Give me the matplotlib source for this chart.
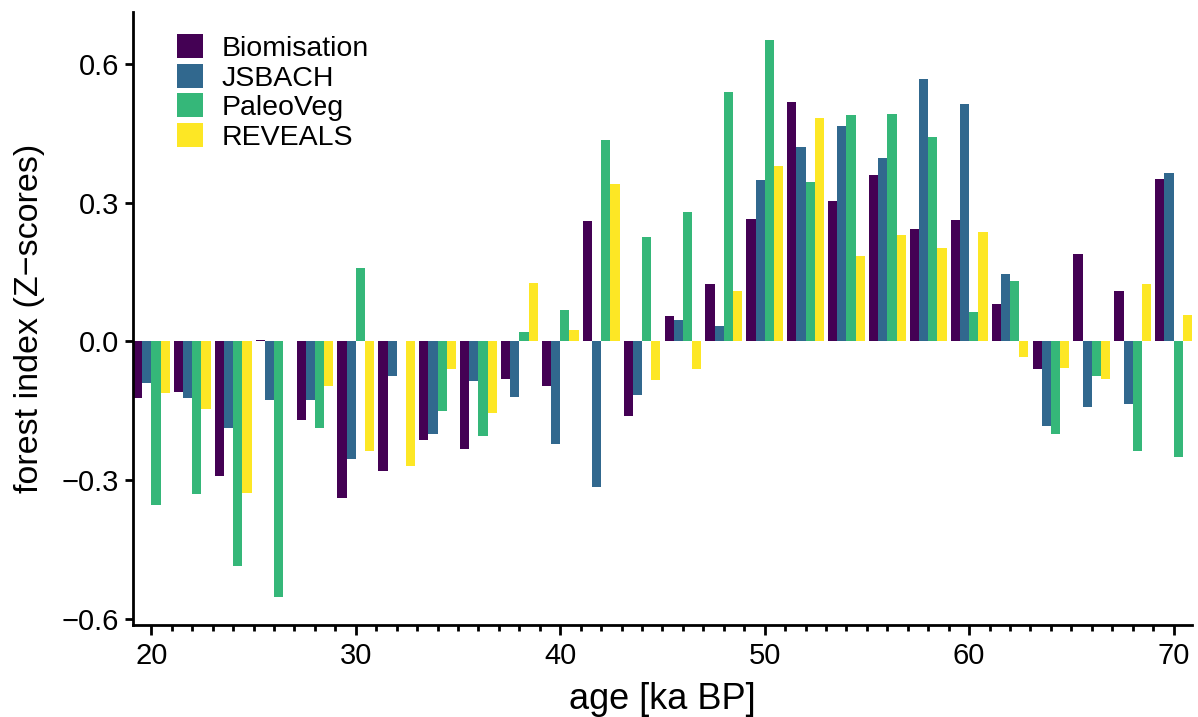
import numpy as np
import matplotlib
matplotlib.use("Agg")
import matplotlib.pyplot as plt
from matplotlib.ticker import MultipleLocator

plt.rcParams['font.family'] = ['Liberation Sans', 'DejaVu Sans']

ages = [20, 22, 24, 26, 28, 30, 32, 34, 36, 38, 40, 42, 44, 46, 48, 50, 52, 54, 56, 58, 60, 62, 64, 66, 68, 70]
series_names = ["Biomisation", "JSBACH", "PaleoVeg", "REVEALS"]
biomisation = [-0.123, -0.110, -0.291, 0.003, -0.171, -0.339, -0.280, -0.213, -0.232, -0.081, -0.097, 0.260, -0.162,
               0.054, 0.124, 0.265, 0.518, 0.304, 0.359, 0.244, 0.262, 0.081, -0.060, 0.189, 0.108, 0.351]
jsbach = [-0.091, -0.123, -0.187, -0.127, -0.127, -0.255, -0.074, -0.200, -0.085, -0.121, -0.222, -0.316, -0.115,
          0.047, 0.034, 0.349, 0.420, 0.465, 0.396, 0.567, 0.513, 0.145, -0.182, -0.143, -0.136, 0.364]
paleoveg = [-0.353, -0.331, -0.485, -0.554, -0.187, 0.159, 0.0, -0.151, -0.204, 0.021, 0.068, 0.435, 0.225,
            0.279, 0.540, 0.652, 0.345, 0.490, 0.492, 0.441, 0.063, 0.130, -0.200, -0.075, -0.237, -0.251]
reveals = [-0.111, -0.146, -0.327, 0.0, -0.097, -0.237, -0.270, -0.059, -0.156, 0.126, 0.025, 0.340, -0.084,
           -0.060, 0.110, 0.380, 0.484, 0.185, 0.231, 0.202, 0.236, -0.033, -0.058, -0.081, 0.124, 0.058]
colors = ["#440154", "#31688E", "#35B779", "#FDE725"]

series = [biomisation, jsbach, paleoveg, reveals]

fig = plt.figure(figsize=(11.98, 7.17), dpi=100)
ax = fig.add_axes([0.111, 0.128, 0.884, 0.855])

x = np.array(ages, dtype=float)
bw = 0.45
for i, (name, vals, c) in enumerate(zip(series_names, series, colors)):
    ax.bar(x + (i - 1.5) * bw, vals, width=bw, color=c, label=name, linewidth=0)

ax.set_xlim(19.1, 70.9)
ax.set_ylim(-0.614, 0.712)
ax.set_xticks([20, 30, 40, 50, 60, 70])
ax.xaxis.set_minor_locator(MultipleLocator(1))
ax.set_yticks([-0.6, -0.3, 0.0, 0.3, 0.6])
ax.set_yticklabels(["\u22120.6", "\u22120.3", "0.0", "0.3", "0.6"])

for s in ["top", "right"]:
    ax.spines[s].set_visible(False)
for s in ["left", "bottom"]:
    ax.spines[s].set_linewidth(2.0)

ax.tick_params(axis="both", which="major", labelsize=21, width=2.0, length=6, color="black", pad=4)
ax.tick_params(axis="x", which="minor", width=2.0, length=4)
ax.tick_params(axis="x", which="major", length=7, pad=5)

ax.set_xlabel("age [ka BP]", fontsize=26, labelpad=9)
ax.set_ylabel("forest index (Z\u2212scores)", fontsize=24.5, labelpad=12)

leg = ax.legend(loc="center left", bbox_to_anchor=(0.1477, 1 - 92.5 / 717), bbox_transform=fig.transFigure,
                frameon=False, fontsize=20.5, borderpad=0,
                handlelength=0.92, handleheight=0.92, handletextpad=0.65, labelspacing=0.07, borderaxespad=0)

fig.savefig("out.png", dpi=100)
